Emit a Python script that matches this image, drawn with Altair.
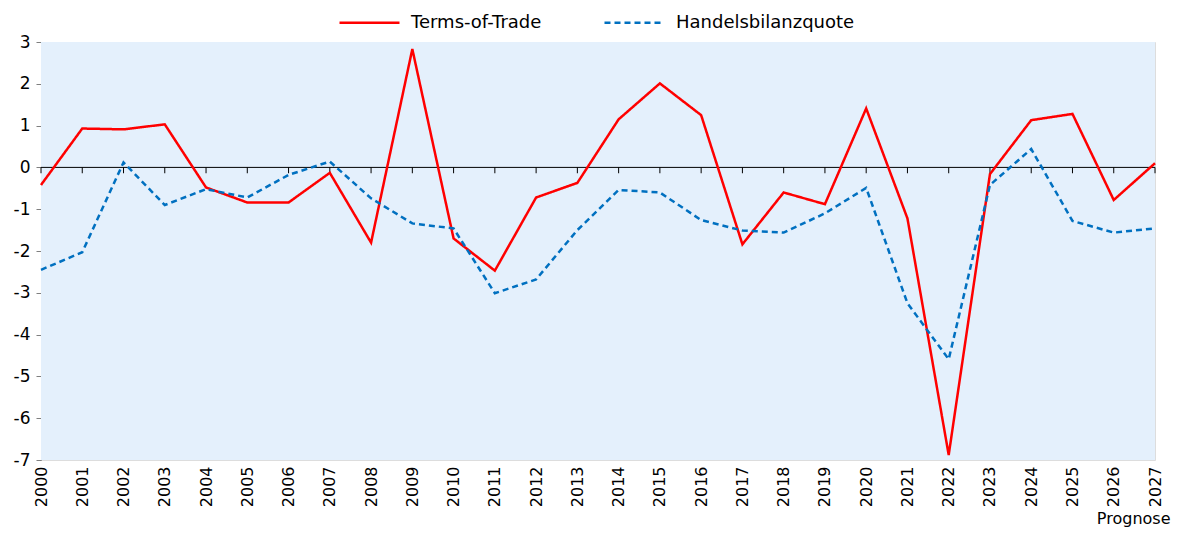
import altair as alt
import pandas as pd

years = list(range(2000, 2028))
tot = [-0.42, 0.93, 0.91, 1.03, -0.48, -0.84, -0.84, -0.13, -1.80, 2.83,
       -1.70, -2.47, -0.72, -0.37, 1.15, 2.01, 1.25, -1.84, -0.60, -0.88,
       1.41, -1.22, -6.88, -0.16, 1.13, 1.28, -0.78, 0.10]
hbq = [-2.45, -2.03, 0.12, -0.90, -0.52, -0.72, -0.18, 0.14, -0.74, -1.34,
       -1.46, -3.01, -2.68, -1.50, -0.54, -0.60, -1.26, -1.51, -1.56, -1.10,
       -0.49, -3.25, -4.59, -0.42, 0.44, -1.28, -1.56, -1.46]
series_names = ["Terms-of-Trade", "Handelsbilanzquote"]
y_ticks = [3, 2, 1, 0, -1, -2, -3, -4, -5, -6, -7]
x_range = [2000, 2027]
y_range = [-7, 3]

rows = []
for i, yr in enumerate(years):
    rows.append({"year": yr, "value": tot[i], "series": series_names[0]})
    rows.append({"year": yr, "value": hbq[i], "series": series_names[1]})
df = pd.DataFrame(rows)
tick_df = pd.DataFrame({"year": years, "y0": [0.0] * len(years), "y1": [-0.14] * len(years)})
bg_df = pd.DataFrame({"x0": [x_range[0]], "x1": [x_range[1]], "y0": [y_range[0]], "y1": [y_range[1]]})

FONT = "DejaVu Sans"

x_scale = alt.Scale(domain=x_range, nice=False, zero=False)
y_scale = alt.Scale(domain=y_range, nice=False)

background = alt.Chart(bg_df).mark_rect(color="#E4F0FC").encode(
    x=alt.X("x0:Q", scale=x_scale), x2="x1:Q",
    y=alt.Y("y0:Q", scale=y_scale), y2="y1:Q",
)

lines = alt.Chart(df).mark_line(strokeWidth=2.5).encode(
    x=alt.X("year:Q", scale=x_scale,
            axis=alt.Axis(values=years, format="d", labelAngle=-90, ticks=False, domain=False,
                          grid=False, labelFontSize=16, labelPadding=6, labelColor="#000000",
                          labelFont=FONT, title="Prognose", titleFont=FONT,
                          titleFontSize=16, titleFontWeight="normal", titleColor="#000000",
                          titleAlign="right", titleBaseline="middle", titleX=1129, titleY=58,
                          titleAngle=0)),
    y=alt.Y("value:Q", scale=y_scale,
            axis=alt.Axis(values=y_ticks, grid=False, domainColor="#7f7f7f", tickColor="#7f7f7f",
                          tickSize=5, labelFontSize=17, labelFont=FONT, labelColor="#000000",
                          labelPadding=6, title=None, labelExpr="'' + datum.value")),
    color=alt.Color("series:N", scale=alt.Scale(domain=series_names, range=["#FF0000", "#0070C0"]),
                    legend=alt.Legend(title=None, orient="none", direction="horizontal",
                                      legendX=297, legendY=-51, labelLimit=400,
                                      symbolType="stroke", symbolStrokeWidth=2.5, symbolSize=3600,
                                      labelFontSize=18, labelFont=FONT, labelColor="#000000",
                                      labelOffset=10, columnPadding=57)),
    strokeDash=alt.StrokeDash("series:N", scale=alt.Scale(domain=series_names, range=[[1, 0], [6, 4]]),
                              legend=None),
)

zero_line = alt.Chart(pd.DataFrame({"z": [0]})).mark_rule(color="#000000", strokeWidth=1).encode(
    y=alt.Y("z:Q", scale=y_scale)
)

ticks = alt.Chart(tick_df).mark_rule(color="#000000", strokeWidth=1).encode(
    x=alt.X("year:Q", scale=x_scale),
    y=alt.Y("y0:Q", scale=y_scale),
    y2="y1:Q",
)

chart = alt.layer(background, zero_line, ticks, lines).properties(
    width=1114, height=418,
    autosize=alt.AutoSizeParams(type="none"),
    padding={"left": 33, "top": 34, "right": 16, "bottom": 69},
).configure_view(strokeWidth=0, stroke="transparent").configure(background="#ffffff")

chart.save("out.html", embed_options={"renderer": "svg", "actions": False})
